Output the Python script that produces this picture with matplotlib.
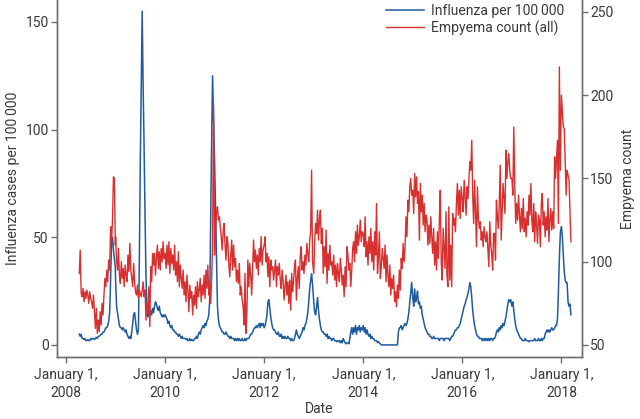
import numpy as np
import pandas as pd
import matplotlib
matplotlib.use("Agg")
import matplotlib.pyplot as plt

# -----------------------------
# Weekly data
# 2008 starts at week 14, 2018 ends at week 10
# -----------------------------
flu_2008 = [5, 4, 5, 3, 3, 2.5, 3, 2, 2, 2.5, 2, 2, 3, 2.5, 3, 3, 2.5, 3, 3.5, 3,
            4, 4, 4.5, 5, 5, 6, 6, 7, 8, 8, 9, 11, 15, 30, 48, 50, 44, 40, 36]
flu_2009 = [30, 18, 15, 12, 9, 8, 8, 7, 8, 7, 6, 7, 5, 4, 3, 4, 3, 6, 10, 14,
            15, 11, 7, 5, 7, 40, 85, 120, 155, 120, 92, 60, 32, 16, 13, 15, 13, 16, 14, 17,
            15, 18, 20, 19, 17, 16, 18, 15, 14, 13, 14, 13]
flu_2010 = [14, 13, 12, 10, 11, 9, 8, 9, 7, 7, 6, 6, 5, 5, 4, 5, 4, 3, 4, 3,
            3, 3, 2.5, 3, 2, 2, 3, 2, 2.5, 2, 2, 3, 3, 4, 3, 5, 6, 5, 7, 8,
            9, 8, 10, 9, 11, 12, 14, 21, 60, 95, 125, 105]
flu_2011 = [85, 62, 41, 18, 12, 9, 8, 7, 6, 6, 5, 5, 6, 5, 4, 4, 3, 4, 3, 3,
            3, 2, 3, 2, 3, 2, 3, 2, 2, 3, 2, 2, 3, 2, 3, 3, 3, 4, 5, 5,
            6, 7, 8, 8, 9, 8, 9, 10, 8, 10, 9, 10]
flu_2012 = [8, 9, 11, 14, 20, 21, 17, 13, 10, 8, 7, 7, 6, 5, 5, 6, 4, 4, 5, 3,
            4, 3, 4, 3, 3, 4, 3, 3, 2, 3, 2, 2, 3, 5, 7, 5, 4, 3, 4, 5,
            6, 8, 7, 9, 10, 12, 15, 20, 26, 30, 33, 28]
flu_2013 = [20, 15, 14, 18, 22, 16, 12, 9, 7, 6, 6, 5, 5, 4, 5, 3, 4, 3, 3, 2,
            3, 3, 2, 2, 1.5, 2, 1.5, 2, 1, 2, 1, 3, 2, 1, 0.5, 1, 1, 0.5, 3, 6,
            8, 5, 8, 6, 9, 5, 8, 7, 9, 6, 8, 7]
flu_2014 = [9, 6, 8, 5, 7, 5, 4, 5, 3, 4, 3, 3, 2, 2, 2, 1, 1.5, 1, 0.5, 0,
            0, 0, 0, 0, 0, 0, 0, 0, 0, 0, 0, 0, 0, 0, 0, 0, 0, 6, 8, 8,
            9, 7, 8, 9, 10, 9, 10, 12, 15, 20, 24, 29]
flu_2015 = [22, 18, 26, 20, 22, 25, 19, 20, 17, 18, 14, 12, 10, 8, 7, 6, 5, 5, 4, 4,
            3, 3, 4, 3, 3, 3, 3, 3, 2, 3, 3, 3, 3, 2, 3, 3, 3, 3, 3, 2,
            3, 4, 4, 5, 6, 7, 7, 8, 8, 9, 10, 12]
flu_2016 = [14, 16, 18, 19, 21, 22, 24, 26, 29, 27, 22, 16, 12, 9, 7, 5, 4, 4, 3, 3,
            3, 2, 3, 2, 3, 2, 3, 2, 3, 2, 3, 3, 2, 3, 3, 4, 6, 7, 6, 8,
            7, 9, 8, 10, 9, 11, 13, 16, 19, 21, 20, 21]
flu_2017 = [18, 20, 16, 12, 9, 7, 6, 5, 4, 3, 3, 2, 2, 2, 3, 2, 2, 2, 1.5, 2,
            2, 2, 2, 2, 3, 2, 2, 2, 3, 2, 2, 3, 2, 3, 3, 5, 6, 7, 6, 7,
            6, 7, 8, 7, 7, 8, 9, 9, 12, 25, 40, 52]
flu_2018 = [55, 50, 42, 34, 30, 29, 29, 20, 18, 19, 14]

emp_2008 = [93, 107, 81, 79, 84, 76, 82, 78, 83, 80, 75, 82, 78, 76, 72, 80, 70, 60, 72, 57,
            65, 58, 70, 62, 75, 68, 80, 90, 85, 95, 88, 101, 95, 121, 112, 125, 151, 150, 110]
emp_2009 = [115, 101, 95, 108, 92, 87, 100, 90, 96, 85, 98, 92, 88, 104, 94, 111, 95, 90, 85, 99,
            88, 82, 80, 86, 78, 83, 81, 79, 83, 88, 79, 83, 65, 75, 69, 85, 61, 97, 88, 105,
            98, 105, 92, 103, 110, 96, 106, 95, 108, 100, 112, 102]
emp_2010 = [105, 96, 110, 98, 112, 93, 108, 99, 104, 95, 110, 92, 100, 88, 106, 85, 98, 90, 84, 95,
            80, 88, 76, 92, 83, 70, 86, 78, 82, 68, 80, 74, 85, 72, 88, 79, 83, 90, 76, 86,
            80, 92, 78, 95, 84, 98, 80, 88, 75, 90, 110, 195]
emp_2011 = [104, 118, 130, 133, 125, 127, 121, 115, 107, 118, 123, 110, 101, 115, 111, 98, 91, 104, 113, 95,
            110, 97, 102, 88, 95, 87, 99, 80, 85, 77, 73, 62, 93, 57, 69, 101, 85, 99, 92, 80,
            95, 113, 100, 107, 96, 104, 92, 108, 100, 115, 98, 107]
emp_2012 = [110, 115, 100, 105, 91, 103, 85, 101, 95, 97, 89, 95, 101, 85, 97, 92, 99, 89, 84, 95,
            89, 77, 85, 92, 80, 88, 75, 89, 71, 93, 82, 88, 97, 101, 77, 90, 97, 84, 103, 109,
            95, 100, 93, 104, 98, 111, 105, 100, 113, 118, 155, 100]
emp_2013 = [93, 113, 123, 117, 131, 113, 125, 131, 111, 120, 93, 109, 97, 119, 87, 105, 95, 110, 98, 100,
            92, 104, 89, 98, 85, 99, 93, 88, 102, 95, 86, 92, 79, 97, 85, 109, 104, 95, 99, 85,
            95, 108, 112, 100, 118, 105, 122, 110, 115, 125, 112, 118]
emp_2014 = [117, 109, 127, 103, 112, 98, 115, 105, 120, 100, 112, 95, 118, 104, 135, 93, 103, 118, 90, 97,
            108, 102, 96, 110, 88, 104, 92, 85, 98, 80, 90, 84, 92, 76, 82, 73, 86, 78, 95, 83,
            102, 96, 111, 100, 108, 127, 115, 137, 130, 145, 150, 140]
emp_2015 = [143, 129, 153, 139, 151, 135, 142, 113, 147, 130, 140, 122, 135, 118, 128, 125, 110, 122, 111, 127,
            115, 105, 120, 98, 112, 95, 118, 102, 125, 143, 100, 89, 120, 108, 96, 130, 92, 85, 133, 89,
            110, 85, 129, 122, 126, 118, 135, 147, 128, 143, 126, 145]
emp_2016 = [138, 130, 149, 140, 128, 145, 138, 149, 160, 155, 173, 140, 123, 149, 130, 109, 145, 126, 120, 124,
            113, 118, 109, 121, 115, 112, 118, 108, 97, 124, 110, 105, 95, 117, 117, 101, 137, 127, 120, 135,
            158, 113, 130, 147, 138, 129, 167, 150, 160, 165, 155, 150]
emp_2017 = [150, 140, 181, 147, 123, 135, 125, 140, 128, 118, 132, 120, 138, 118, 126, 115, 130, 122, 140, 128,
            147, 125, 118, 135, 112, 130, 122, 111, 128, 125, 109, 135, 141, 122, 130, 115, 127, 119, 138, 112,
            125, 132, 119, 130, 120, 163, 150, 161, 173, 123, 217, 155]
emp_2018 = [200, 190, 181, 180, 161, 140, 155, 152, 150, 130, 112]

years = list(range(2008, 2019))
flu_by_year = [flu_2008, flu_2009, flu_2010, flu_2011, flu_2012, flu_2013,
               flu_2014, flu_2015, flu_2016, flu_2017, flu_2018]
emp_by_year = [emp_2008, emp_2009, emp_2010, emp_2011, emp_2012, emp_2013,
               emp_2014, emp_2015, emp_2016, emp_2017, emp_2018]

# -----------------------------
# Build weekly dates
# -----------------------------
dates = []
for year, values in zip(years, flu_by_year):
    first_week = 14 if year == 2008 else 0
    start = pd.Timestamp(f"{year}-01-01")
    for k in range(len(values)):
        dates.append(start + pd.Timedelta(days=7 * (first_week + k)))

flu = np.concatenate(flu_by_year)
emp = np.concatenate(emp_by_year)

# -----------------------------
# Style
# -----------------------------
plt.rcParams["font.family"] = ["Roboto", "DejaVu Sans"]
fs = 10
text_color = "#3a3a3a"
spine_color = "#6e6e6e"
blue = "#1f5b9e"
red = "#d8302f"

fig = plt.figure(figsize=(6.4, 4.19), dpi=100)
ax = fig.add_axes([0.0891, 0.148, 0.8203, 0.852])
ax2 = ax.twinx()

line1, = ax.plot(dates, flu, color=blue, linewidth=1.1, label="Influenza per 100\u2009000")
line2, = ax2.plot(dates, emp, color=red, linewidth=1.0, label="Empyema count (all)")

ax.set_xlim(pd.Timestamp("2007-10-27"), pd.Timestamp("2018-06-02"))
ax.set_ylim(-5.6, 160.2)
ax2.set_ylim(42.8, 257.2)

tick_dates = [pd.Timestamp(f"{y}-01-01") for y in range(2008, 2019, 2)]
ax.set_xticks(tick_dates)
ax.set_xticklabels([f"January 1,\n{d.year}" for d in tick_dates], linespacing=1.4)
ax.set_yticks([0, 50, 100, 150])
ax2.set_yticks([50, 100, 150, 200, 250])

for a in (ax, ax2):
    a.spines["top"].set_visible(False)
    for s in ("left", "right", "bottom"):
        a.spines[s].set_color(spine_color)
        a.spines[s].set_linewidth(1.0)
    a.tick_params(colors=spine_color, labelcolor=text_color, length=4, width=1.0,
                  labelsize=fs, pad=2)
ax.tick_params(axis="x", pad=4)

ax.set_xlabel("Date", color=text_color, fontsize=fs, labelpad=1)
ax.set_ylabel("Influenza cases per 100\u2009000", color=text_color, fontsize=fs, labelpad=4)
ax2.set_ylabel("Empyema count", color=text_color, fontsize=fs, labelpad=5)

ax.legend(handles=[line1, line2], loc="upper left", bbox_to_anchor=(0.602, 1.025),
          frameon=False, fontsize=fs, handlelength=2.8, handletextpad=0.5,
          labelspacing=0.2, labelcolor=text_color)

fig.savefig("out.png", dpi=100)
